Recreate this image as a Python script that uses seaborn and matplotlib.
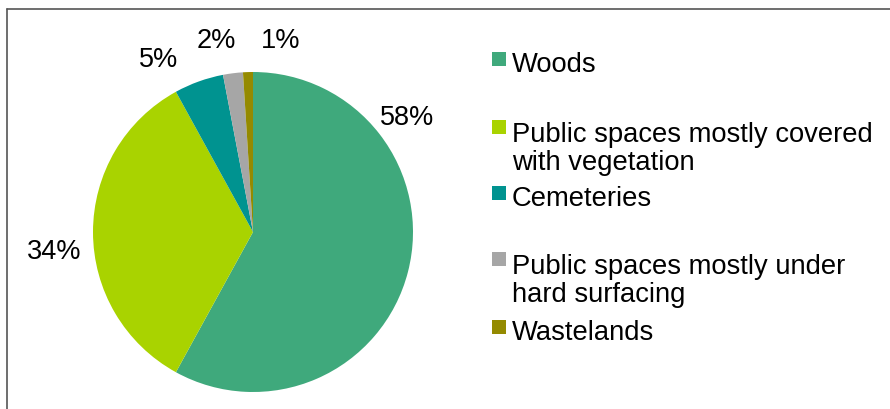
import matplotlib
matplotlib.use('Agg')
import matplotlib.pyplot as plt
import seaborn as sns
from matplotlib.patches import Rectangle
from matplotlib.lines import Line2D

sns.set_theme(style='white')
plt.rcParams['font.family'] = ['Liberation Sans', 'DejaVu Sans']

# Data
categories = ['Woods', 'Public spaces mostly covered\nwith vegetation', 'Cemeteries',
              'Public spaces mostly under\nhard surfacing', 'Wastelands']
shares = [58, 34, 5, 2, 1]
colors = ['#3FA97C', '#A9D300', '#009390', '#A6A6A6', '#948A00']

W, H = 890, 410
fig = plt.figure(figsize=(W / 100, H / 100), dpi=100)

# pie axes, centred at (253, 233) px with radius 160 px
ax = fig.add_axes([(253 - 160) / W, (H - 393) / H, 320 / W, 320 / H])
wedges, _ = ax.pie(shares, colors=colors, startangle=90, counterclock=False,
                   wedgeprops=dict(linewidth=0))
ax.set_xlim(-1, 1)
ax.set_ylim(-1, 1)
ax.set_aspect('equal')
ax.axis('off')

# percentage labels (positions in pie radius units, as placed in the original)
label_pos = [(0.96, 0.74), (-1.24, -0.10), (-0.59, 1.10), (-0.23, 1.22), (0.17, 1.22)]
for v, (x, y) in zip(shares, label_pos):
    ax.text(x, y, f'{v}%', ha='center', va='center_baseline', fontsize=19.5, color='#000000',
            clip_on=False)

# legend drawn by hand to reproduce the uneven spacing
first_base = [72, 140, 206, 272, 340]   # baseline of first line (px from top)
for lab, c, yb in zip(categories, colors, first_base):
    fig.patches.append(Rectangle((492 / W, (H - yb + 12 - 7) / H), 14 / W, 14 / H,
                                 transform=fig.transFigure, facecolor=c, edgecolor='none'))
    # va='baseline' anchors the last line, so offset by the extra lines
    last_base = yb + 30 * lab.count('\n')
    fig.text(512 / W, (H - last_base) / H, lab, ha='left', va='baseline', fontsize=19.7,
             color='#000000', linespacing=1.1)

# frame: only top and left edges visible
fig.lines.append(Line2D([7 / W, 7 / W], [0, 1 - 10 / H], transform=fig.transFigure,
                        color='#555555', linewidth=1.2))
fig.lines.append(Line2D([7 / W, 1], [1 - 10 / H, 1 - 10 / H], transform=fig.transFigure,
                        color='#555555', linewidth=1.2))

fig.savefig('out.png', dpi=100)
